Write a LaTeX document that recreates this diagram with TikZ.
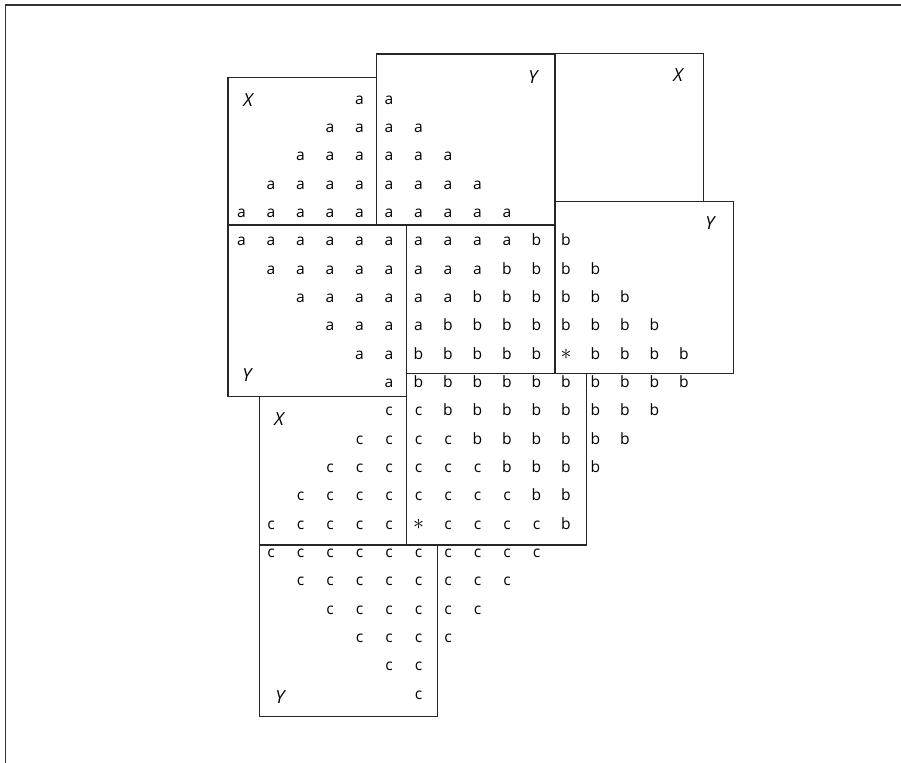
\documentclass[tikz,border=0pt]{standalone}
\usepackage{fontspec}
\setmainfont{Open Sans}
\tikzset{
  cell/.style={font=\fontsize{7.8}{9}\selectfont, anchor=base, inner sep=0pt},
  starcell/.style={cell, font=\fontsize{11}{12}\selectfont},
  lab/.style={font=\fontsize{9}{11}\selectfont\itshape, inner sep=0pt},
  box/.style={draw=black!85, line width=0.7pt}
}
\begin{document}
\begin{tikzpicture}[x=0.5pt, y=-0.5pt]
\useasboundingbox (0,0) rectangle (901,763);
\draw[line width=0.9pt, black!80](5.5,763)--(5.5,5)--(901,5);

% boxes
\draw[box](228,77.3) rectangle (376.7,225);
\draw[box](376.7,54) rectangle (555,225);
\draw[box](555,53.3) rectangle (703.3,201.5);
\draw[box](555,201.5) rectangle (733.3,373.3);
\draw[box](228,225) rectangle (406.5,396.5);
\draw[box](406.5,225) rectangle (555,373.3);
\draw[box](259.3,396.5) rectangle (406.5,545);
\draw[box](406.5,373.3) rectangle (586.7,545);
\draw[box](259.3,545) rectangle (437.7,716.7);

% letters: row/first col/last col
\foreach \r/\f/\t in {0/4/5,1/3/6,2/2/7,3/1/8,4/0/9,5/0/9,6/1/8,7/2/7,8/3/6,9/4/5,10/5/5}
  \foreach \c in {\f,...,\t}
    \node[cell] (a-\r-\c) at ({241.5+29.5*\c},{104.2+28.33*\r}) {a};
\foreach \r/\f/\t in {5/10/11,6/9/12,7/8/13,8/7/14,9/6/10,9/12/15,10/6/15,11/7/14,12/8/13,13/9/12,14/10/11,15/11/11}
  \foreach \c in {\f,...,\t}
    \node[cell] (b-\r-\c) at ({241.5+29.5*\c},{104.2+28.33*\r}) {b};
\foreach \r/\f/\t in {11/5/6,12/4/7,13/3/8,14/2/9,15/1/5,15/7/10,16/1/10,17/2/9,18/3/8,19/4/7,20/5/6,21/6/6}
  \foreach \c in {\f,...,\t}
    \node[cell] (c-\r-\c) at ({241.5+29.5*\c},{104.2+28.33*\r}) {c};
\node[starcell] (star-b) at ({241.5+29.5*11},{104.2+28.33*9}) {$\ast$};
\node[starcell] (star-c) at ({241.5+29.5*6},{104.2+28.33*15}) {$\ast$};

\node[lab] (lab-A) at (248,100) {X};
\node[lab] (lab-B) at (533,76.7) {Y};
\node[lab] (lab-C) at (678,75) {X};
\node[lab] (lab-D) at (710,223) {Y};
\node[lab] (lab-E) at (247,375) {Y};
\node[lab] (lab-G) at (279,419) {X};
\node[lab] (lab-I) at (280,697) {Y};
\end{tikzpicture}
\end{document}
